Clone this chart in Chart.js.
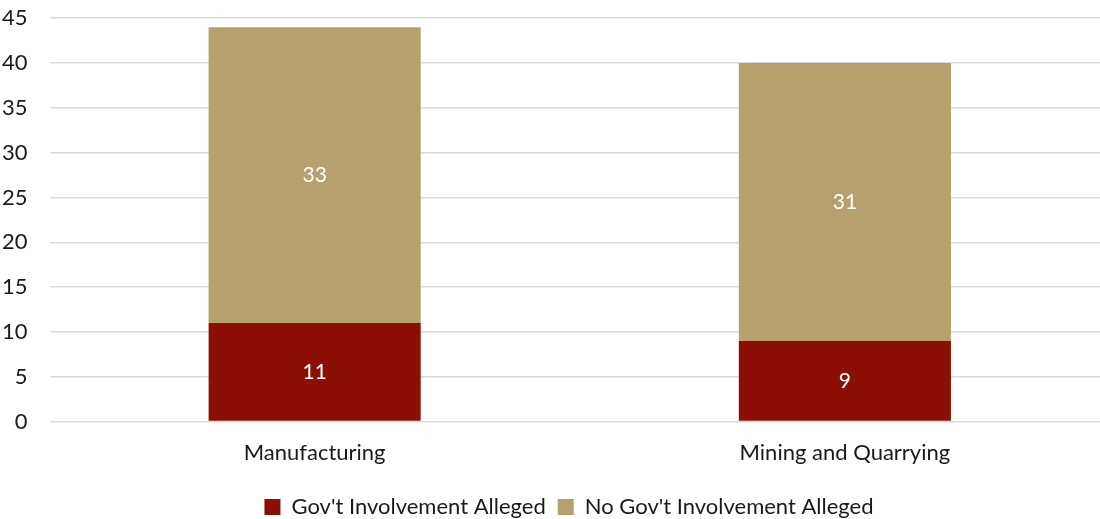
<!DOCTYPE html>
<html>
<head>
<meta charset="utf-8">
<script src="https://cdn.jsdelivr.net/npm/chart.js@4"></script>
<style>
    html, body { margin: 0; padding: 0; background: #fff; overflow: hidden; }
    #wrap { width: 1136px; height: 545px; margin-left: -26px; margin-top: -17px; }
</style>
</head>
<body>
<div id="wrap"><canvas id="barChart"></canvas></div>
<script>
const sectors = ['Manufacturing', 'Mining and Quarrying'];
const govAlleged = [11, 9];
const noGovAlleged = [33, 31];
const yTicks = [0, 5, 10, 15, 20, 25, 30, 35, 40, 45];

const fontFamily = 'Lato, "Open Sans", sans-serif';
const textColor = '#1a1a1a';

// writes each segment's value in the middle of the bar
const segmentLabels = {
    id: 'segmentLabels',
    afterDatasetsDraw(chart) {
        const ctx = chart.ctx;
        ctx.save();
        ctx.fillStyle = '#ffffff';
        ctx.font = '21px ' + fontFamily;
        ctx.textAlign = 'center';
        ctx.textBaseline = 'middle';
        chart.data.datasets.forEach((ds, i) => {
            chart.getDatasetMeta(i).data.forEach((bar, j) => {
                const mid = (bar.y + bar.base) / 2;
                ctx.fillText(String(ds.data[j]), bar.x, mid);
            });
        });
        ctx.restore();
    }
};

// nudge the legend row a little to the right of the canvas centre
const legendShift = {
    id: 'legendShift',
    afterLayout(chart) {
        if (chart.legend) {
            chart.legend.left += 24;
            chart.legend.right += 24;
        }
    }
};

function buildChart() {
    const ctx = document.getElementById('barChart').getContext('2d');

    new Chart(ctx, {
        type: 'bar',
        data: {
            labels: sectors,
            datasets: [
                {
                    label: "Gov't Involvement Alleged",
                    data: govAlleged,
                    backgroundColor: '#8b0f04'
                },
                {
                    label: "No Gov't Involvement Alleged",
                    data: noGovAlleged,
                    backgroundColor: '#b5a06e'
                }
            ]
        },
        options: {
            responsive: true,
            maintainAspectRatio: false,
            animation: false,
            categoryPercentage: 0.8,
            barPercentage: 0.5,
            layout: {
                autoPadding: false,
                padding: { left: 6, right: 0, top: 17, bottom: 0 }
            },
            scales: {
                x: {
                    stacked: true,
                    grid: { display: false, drawTicks: false },
                    border: { display: false },
                    ticks: {
                        color: textColor,
                        font: { family: fontFamily, size: 22 },
                        padding: 18
                    }
                },
                y: {
                    stacked: true,
                    min: 0,
                    max: 45,
                    afterBuildTicks: axis => {
                        axis.ticks = yTicks.map(v => ({ value: v }));
                    },
                    grid: { color: '#d9d9d9', lineWidth: 1.5, drawTicks: false },
                    border: { display: false },
                    ticks: {
                        color: textColor,
                        font: { family: fontFamily, size: 22 },
                        padding: 22
                    }
                }
            },
            plugins: {
                legend: {
                    position: 'bottom',
                    labels: {
                        color: textColor,
                        font: { family: fontFamily, size: 22 },
                        boxWidth: 16,
                        boxHeight: 16,
                        padding: 12
                    }
                },
                title: { display: false },
                tooltip: { enabled: false }
            }
        },
        plugins: [segmentLabels, legendShift]
    });
}

buildChart();
</script>
</body>
</html>
